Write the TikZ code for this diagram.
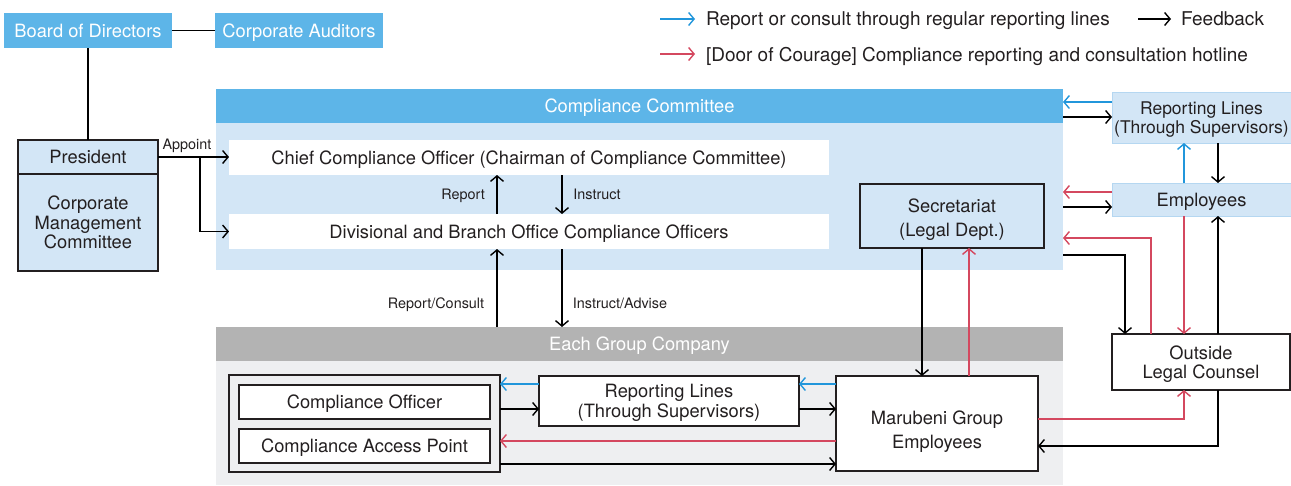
\documentclass[tikz,border=0pt]{standalone}
\usepackage{fontspec}
\setmainfont{TeX Gyre Heros}
\usetikzlibrary{arrows.meta}
\definecolor{hblue}{HTML}{5DB5E8}
\definecolor{lblue}{HTML}{D3E6F6}
\definecolor{lbord}{HTML}{B5D7F1}
\definecolor{gbar}{HTML}{B3B3B3}
\definecolor{gbody}{HTML}{EEEFF1}
\definecolor{ablue}{HTML}{2196DB}
\definecolor{ared}{HTML}{D4485F}
\definecolor{txt}{HTML}{231F20}
\begin{document}
\begin{tikzpicture}[x=1pt,y=-1pt,
  every node/.style={inner sep=0pt, outer sep=0pt, text depth=0pt, font=\fontsize{18.3}{19.5}\selectfont, text=txt, align=center},
  hdr/.style={fill=hblue, text=white},
  bx/.style={draw=txt, line width=1.4pt},
  tip/.style={-{Straight Barb[length=5.5pt,width=13pt,line width=1.4pt]}},
  fb/.style={tip, draw=black, line width=1.4pt},
  rp/.style={tip, draw=ablue, line width=1.4pt},
  hl/.style={tip, draw=ared, line width=1.4pt},
  small/.style={font=\fontsize{14.4}{16}\selectfont},
  wide/.style={font=\fontsize{18.3}{24}\selectfont},
  leg/.style={anchor=west, font=\fontsize{19}{21}\selectfont},
  sz/.style 2 args={minimum width=#1pt, minimum height=#2pt}
]
\useasboundingbox (0,0) rectangle (1291,485);

% top left
\node[hdr, sz={168}{35}] (board) at (88,30.5) {Board of Directors};
\node[hdr, sz={168}{35}] (aud) at (299,30.5) {Corporate Auditors};
\node[bx, fill=lblue, sz={140}{34}] (pres) at (88,157) {President};
\node[bx, fill=lblue, sz={140}{97}] (cmc) at (88,222.5) {Corporate\\Management\\Committee};
\draw[black, line width=1.4pt] (board.east) -- (aud.west);
\draw[black, line width=1.4pt] (board.south) -- (pres.north);

% compliance committee
\node[fill=lblue, sz={847}{147}] (ccbody) at (639.5,196.5) {};
\node[hdr, sz={847}{34}] (cc) at (639.5,106) {Compliance Committee};
\node[fill=white, sz={600}{35}] (cco) at (529,157.5) {Chief Compliance Officer (Chairman of Compliance Committee)};
\node[fill=white, sz={600}{35}] (dbo) at (529,231.5) {Divisional and Branch Office Compliance Officers};
\node[bx, fill=lblue, wide, sz={184}{64}] (sec) at (952,216) {\rule{0pt}{17pt}Secretariat\\(Legal Dept.)};

% group company
\node[fill=gbody, sz={847}{124}] (gbody) at (639.5,423) {};
\node[fill=gbar, text=white, sz={847}{34}] (grp) at (639.5,344) {Each Group Company};
\node[bx, fill=gbody, sz={271}{97}] (outer) at (364.5,423.5) {};
\node[bx, fill=white, sz={251}{34}] (co) at (364.5,402) {Compliance Officer};
\node[bx, fill=white, sz={251}{34}] (cap) at (364.5,446) {Compliance Access Point};
\node[bx, fill=white, sz={260}{50}] (grl) at (669,401) {Reporting Lines\\(Through Supervisors)};
\node[bx, fill=white, wide, sz={202}{95}] (mge) at (937,423.5) {\rule{0pt}{25pt}Marubeni Group\\Employees};

% right side
\node[fill=lblue, draw=lbord, line width=1pt, font=\fontsize{17.5}{19.5}\selectfont, sz={179}{51}] (rrl) at (1201.5,117.5) {Reporting Lines\\(Through Supervisors)};
\node[fill=lblue, draw=lbord, line width=1pt, sz={179}{33}] (emp) at (1201.5,199.5) {Employees};
\node[bx, fill=white, sz={178}{56}] (olc) at (1201,362) {Outside\\Legal Counsel};

% appoint
\coordinate (br) at (200,157);
\draw[fb] (pres.east) -- (pres.east -| cco.west);
\draw[fb] (br) |- (dbo.west);
\node[small, anchor=south] (appl) at (187,149) {Appoint};

% report / instruct
\draw[fb] (dbo.north -| 497,0) -- (cco.south -| 497,0);
\draw[fb] (cco.south -| 562,0) -- (dbo.north -| 562,0);
\node[small] (repl) at (463,194) {Report};
\node[small] (insl) at (597,194) {Instruct};
\draw[fb] (grp.north -| 497,0) -- (dbo.south -| 497,0);
\draw[fb] (dbo.south -| 562,0) -- (grp.north -| 562,0);
\node[small] (rcl) at (436,303) {Report/Consult};
\node[small] (ial) at (620,303) {Instruct/Advise};

% group internal arrows
\draw[rp] (grl.west |- 0,384) -- (outer.east |- 0,384);
\draw[fb] (outer.east |- 0,409) -- (grl.west |- 0,409);
\draw[rp] (mge.west |- 0,384) -- (grl.east |- 0,384);
\draw[fb] (grl.east |- 0,409) -- (mge.west |- 0,409);
\draw[hl] (mge.west |- 0,441) -- (outer.east |- 0,441);
\draw[fb] (outer.east |- 0,464) -- (mge.west |- 0,464);

% secretariat <-> marubeni
\draw[fb] (sec.south -| 922,0) -- (mge.north -| 922,0);
\draw[hl] (mge.north -| 969,0) -- (sec.south -| 969,0);

% right side arrows
\draw[rp] (rrl.west |- 0,102) -- (cc.east |- 0,102);
\draw[fb] (cc.east |- 0,117) -- (rrl.west |- 0,117);
\draw[rp] (emp.north -| 1184,0) -- (rrl.south -| 1184,0);
\draw[fb] (rrl.south -| 1218,0) -- (emp.north -| 1218,0);
\draw[hl] (emp.west |- 0,192) -- (ccbody.east |- 0,192);
\draw[fb] (ccbody.east |- 0,207) -- (emp.west |- 0,207);
\draw[hl] (olc.north -| 1151,0) |- (ccbody.east |- 0,238);
\draw[fb] (ccbody.east |- 0,255) -| (olc.north -| 1125,0);
\draw[hl] (emp.south -| 1184,0) -- (olc.north -| 1184,0);
\draw[fb] (olc.north -| 1218,0) -- (emp.south -| 1218,0);
\draw[hl] (mge.east |- 0,419) -| (olc.south -| 1184,0);
\draw[fb] (olc.south -| 1218,0) |- (mge.east |- 0,446);

% legend
\coordinate (lb1) at (660,19);
\coordinate (lb2) at (695,19);
\coordinate (lk1) at (1138,19);
\coordinate (lk2) at (1171,19);
\coordinate (lr1) at (660,54);
\coordinate (lr2) at (695,54);
\draw[rp] (lb1) -- (lb2);
\draw[fb] (lk1) -- (lk2);
\draw[hl] (lr1) -- (lr2);
\node[leg] (lt1) at (706,19) {Report or consult through regular reporting lines};
\node[leg] (lt2) at (1181,19) {Feedback};
\node[leg] (lt3) at (706,54) {[Door of Courage] Compliance reporting and consultation hotline};
\end{tikzpicture}
\end{document}
